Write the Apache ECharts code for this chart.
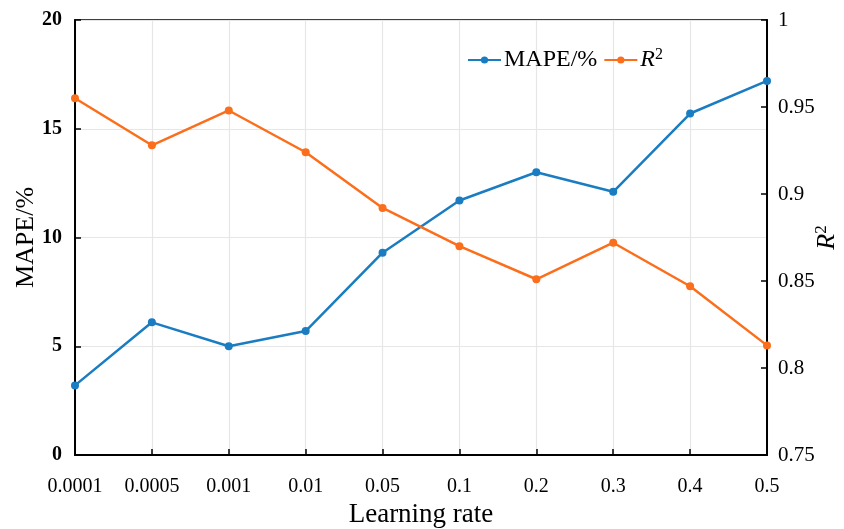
<!DOCTYPE html>
<html><head><meta charset="utf-8">
<script src="https://cdn.jsdelivr.net/npm/echarts@6/dist/echarts.min.js"></script>
<style>html,body{margin:0;padding:0;background:#fff}#c{width:844px;height:529px}</style>
</head><body><div id="c"></div>
<script>
const categories = ['0.0001','0.0005','0.001','0.01','0.05','0.1','0.2','0.3','0.4','0.5'];
const mape = [3.2, 6.1, 5.0, 5.7, 9.3, 11.7, 13.0, 12.1, 15.7, 17.2];
const r2 = [0.955, 0.928, 0.948, 0.924, 0.892, 0.870, 0.851, 0.872, 0.847, 0.813];
const FONT = 'Liberation Serif';
const chart = echarts.init(document.getElementById('c'));
chart.setOption({
  animation: false,
  textStyle: {fontFamily: FONT},
  grid: {left: 75, right: 77, top: 20, bottom: 74, show: true, borderColor: '#000', borderWidth: 1.5,
         outerBoundsMode: 'none', containLabel: false},
  legend: {
    top: 42, left: 462, itemGap: 6, itemWidth: 33, itemHeight: 9,
    data: [
      {name: 'MAPE/%'},
      {name: 'R2'}
    ],
    formatter: function (n) { return n === 'R2' ? '{i|R}{s|2}' : n; },
    textStyle: {fontFamily: FONT, fontSize: 24, color: '#000', padding: [0, 0, 0, -2],
      rich: {i: {fontFamily: FONT, fontSize: 24, fontStyle: 'italic', color: '#000'},
             s: {fontFamily: FONT, fontSize: 16, color: '#000', verticalAlign: 'top', padding: [0,0,10,0]}}}
  },
  xAxis: {
    type: 'category', data: categories, boundaryGap: false,
    name: 'Learning rate', nameLocation: 'middle', nameGap: 46, nameMoveOverlap: false,
    nameTextStyle: {fontFamily: FONT, fontSize: 27, color: '#000'},
    axisLine: {lineStyle: {color: '#000', width: 2}},
    axisTick: {inside: true, length: 6, lineStyle: {color: '#000', width: 1.5}},
    axisLabel: {fontFamily: FONT, fontSize: 20, color: '#000', margin: 22},
    splitLine: {show: true, lineStyle: {color: '#e6e6e6', width: 1.2}}
  },
  yAxis: [
    {
      type: 'value', min: 0, max: 20, interval: 5, position: 'left',
      name: 'MAPE/%', nameLocation: 'middle', nameGap: 36, nameRotate: 90, nameMoveOverlap: false,
      nameTextStyle: {fontFamily: FONT, fontSize: 26, color: '#000'},
      axisLine: {show: true, lineStyle: {color: '#000', width: 2}},
      axisTick: {show: true, inside: true, length: 6, lineStyle: {color: '#000', width: 1.5}},
      axisLabel: {fontFamily: FONT, fontSize: 20, color: '#000', margin: 13, fontWeight: 'bold'},
      splitLine: {show: true, lineStyle: {color: '#e6e6e6', width: 1.2}}
    },
    {
      type: 'value', min: 0.75, max: 1, interval: 0.05, position: 'right',
      name: '{i|R}{s|2}', nameLocation: 'middle', nameGap: 46, nameRotate: 90, nameMoveOverlap: false,
      nameTextStyle: {fontFamily: FONT, fontSize: 26, color: '#000',
        rich: {i: {fontFamily: FONT, fontSize: 26, fontStyle: 'italic', color: '#000'},
               s: {fontFamily: FONT, fontSize: 17, color: '#000', verticalAlign: 'top', padding: [0,0,11,0]}}},
      axisLine: {show: true, lineStyle: {color: '#000', width: 2}},
      axisTick: {show: true, inside: true, length: 6, lineStyle: {color: '#000', width: 1.5}},
      axisLabel: {fontFamily: FONT, fontSize: 21, color: '#000', margin: 11,
        formatter: function (v) { return String(parseFloat(v.toFixed(2))); }},
      splitLine: {show: false}
    }
  ],
  series: [
    {name: 'MAPE/%', type: 'line', yAxisIndex: 0, data: mape,
     symbol: 'circle', symbolSize: 8, lineStyle: {color: '#1a7cc1', width: 2.5}, itemStyle: {color: '#1a7cc1'}},
    {name: 'R2', type: 'line', yAxisIndex: 1, data: r2,
     symbol: 'circle', symbolSize: 8, lineStyle: {color: '#fb6f1c', width: 2.5}, itemStyle: {color: '#fb6f1c'}}
  ]
});
</script></body></html>
